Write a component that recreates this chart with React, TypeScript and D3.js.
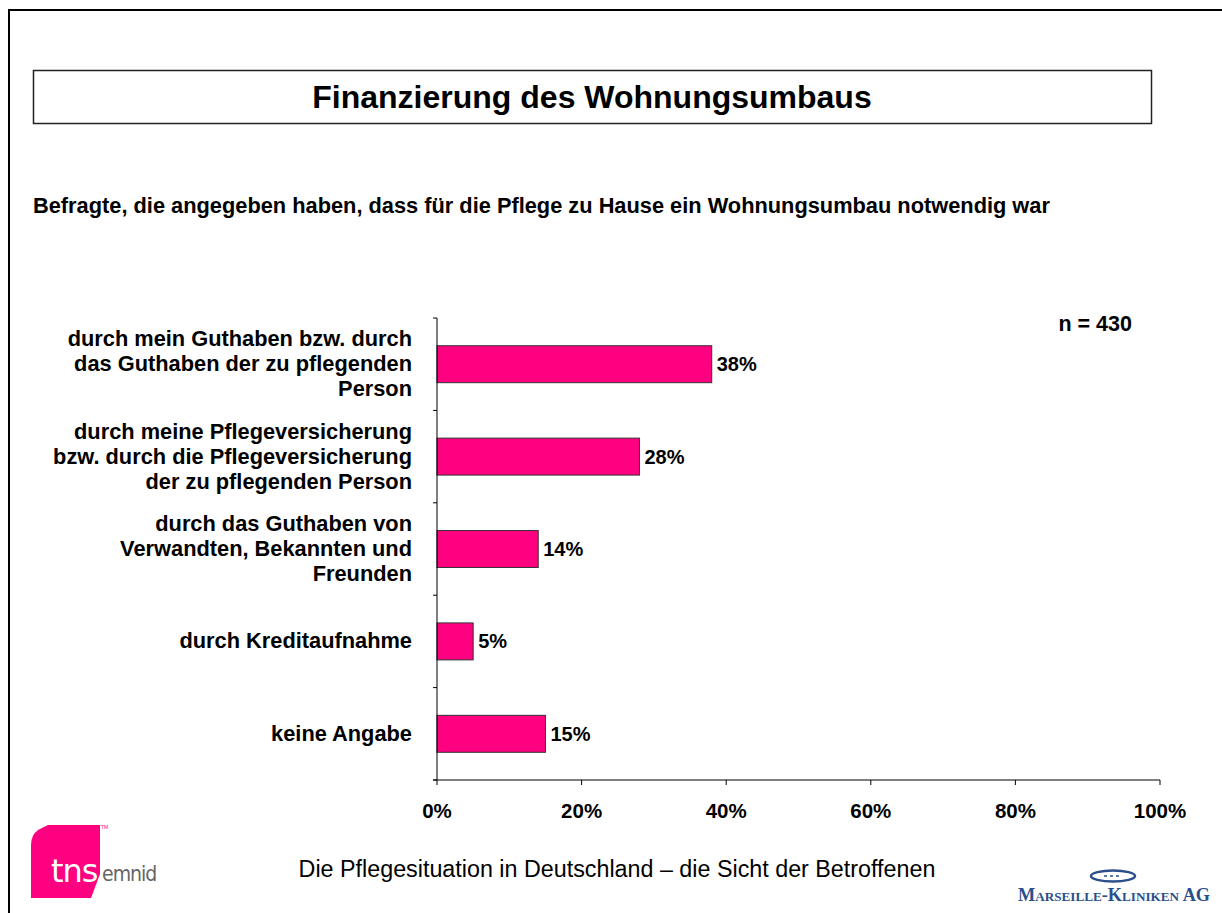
import React from "react";
import * as d3 from "d3";

// chart data
const categories = ["guthaben", "pflegevers", "verwandte", "kredit", "keine"];
const labelLines = [
  ["durch mein Guthaben bzw. durch", "das Guthaben der zu pflegenden", "Person"],
  ["durch meine Pflegeversicherung", "bzw. durch die Pflegeversicherung", "der zu pflegenden Person"],
  ["durch das Guthaben von", "Verwandten, Bekannten und", "Freunden"],
  ["durch Kreditaufnahme"],
  ["keine Angabe"],
];
const values = [38, 28, 14, 5, 15];
const xTicks = [0, 20, 40, 60, 80, 100];

const title = "Finanzierung des Wohnungsumbaus";
const subtitle = "Befragte, die angegeben haben, dass für die Pflege zu Hause ein Wohnungsumbau notwendig war";
const sampleNote = "n = 430";
const footer = "Die Pflegesituation in Deutschland – die Sicht der Betroffenen";

const W = 1222;
const H = 913;
const FONT = "Arial, 'Liberation Sans', sans-serif";
const PINK = "#ff0080";

export default function App() {
  const x = d3.scaleLinear().domain([0, 100]).range([437, 1160]);
  const y = d3
    .scaleBand<string>()
    .domain(categories)
    .range([318, 780])
    .paddingInner(0.6)
    .paddingOuter(0.3);
  const step = y.step();
  const bandStarts = d3.range(categories.length + 1).map((i) => 318 + i * step);
  const lineH = 25;

  return (
    <div style={{ position: "absolute", left: 0, top: 0 }}>
      <svg width={W} height={H} style={{ display: "block", background: "#fff" }} fontFamily={FONT}>
        {/* page frame */}
        <rect x={9} y={10} width={1400} height={1200} fill="none" stroke="#000" strokeWidth={2} />

        {/* title box */}
        <rect x={33.5} y={70.5} width={1118} height={53} fill="#fff" stroke="#222" strokeWidth={1.5} />
        <text x={592} y={108} textAnchor="middle" fontSize={32} fontWeight="bold" fill="#000">
          {title}
        </text>

        <text x={33} y={213} fontSize={21.8} fontWeight="bold" fill="#000">
          {subtitle}
        </text>

        <text x={1132} y={331} textAnchor="end" fontSize={21.5} fontWeight="bold" fill="#000">
          {sampleNote}
        </text>

        {/* bars */}
        {categories.map((c, i) => (
          <g key={c}>
            <rect
              x={x(0)}
              y={y(c)}
              width={x(values[i]) - x(0)}
              height={y.bandwidth()}
              fill={PINK}
              stroke="#333"
              strokeWidth={1}
            />
            <text
              x={x(values[i]) + 5}
              y={(y(c) as number) + y.bandwidth() / 2 + 7}
              fontSize={20}
              fontWeight="bold"
              fill="#000"
            >
              {values[i]}%
            </text>
            {labelLines[i].map((ln, j) => {
              const cy = (y(c) as number) + y.bandwidth() / 2 + (j - (labelLines[i].length - 1) / 2) * lineH;
              return (
                <text key={j} x={412} y={cy + 7} textAnchor="end" fontSize={21.8} fontWeight="bold" fill="#000">
                  {ln}
                </text>
              );
            })}
          </g>
        ))}

        {/* y axis */}
        <line x1={437} x2={437} y1={318} y2={780} stroke="#000" strokeWidth={1} />
        {bandStarts.map((b, i) => (
          <line key={i} x1={433} x2={437} y1={b} y2={b} stroke="#000" strokeWidth={1} />
        ))}

        {/* x axis */}
        <line x1={433} x2={x(100)} y1={780} y2={780} stroke="#000" strokeWidth={1} />
        {xTicks.map((t) => (
          <g key={t}>
            <line x1={x(t)} x2={x(t)} y1={780} y2={785} stroke="#000" strokeWidth={1} />
            <text x={x(t)} y={818} textAnchor="middle" fontSize={20.5} fontWeight="bold" fill="#000">
              {t}%
            </text>
          </g>
        ))}

        {/* footer */}
        <text x={617} y={877} textAnchor="middle" fontSize={23.3} fill="#000">
          {footer}
        </text>

        {/* tns emnid logo */}
        <path d="M48,825 L100,825 L100,874 L91,898 L31,898 L31,845 Q31,835 38,830 Z" fill={PINK} />
        <text x={51} y={882} fontSize={32} fill="#fff" fontFamily="'DejaVu Sans', sans-serif" letterSpacing={-1}>
          tns
        </text>
        <text x={102} y={881} fontSize={21} fill="#666" fontFamily="'DejaVu Sans Condensed', 'DejaVu Sans', sans-serif" letterSpacing={-1}>
          emnid
        </text>
        <text x={101} y={829} fontSize={5} fill={PINK}>TM</text>

        {/* Marseille logo */}
        <ellipse cx={1113} cy={876} rx={22} ry={5.5} fill="none" stroke="#2b4f8a" strokeWidth={2.5} />
        <line x1={1104} x2={1122} y1={876} y2={876} stroke="#2b4f8a" strokeWidth={1.5} strokeDasharray="3,3" />
        <text
          x={1114}
          y={901}
          textAnchor="middle"
          fontSize={18}
          fontWeight="bold"
          fill="#2b4f8a"
          fontFamily="'Liberation Serif', 'DejaVu Serif', serif"
          textLength={192}
          lengthAdjust="spacingAndGlyphs"
          style={{ fontVariant: "small-caps" }}
        >
          Marseille-Kliniken AG
        </text>
      </svg>
    </div>
  );
}
